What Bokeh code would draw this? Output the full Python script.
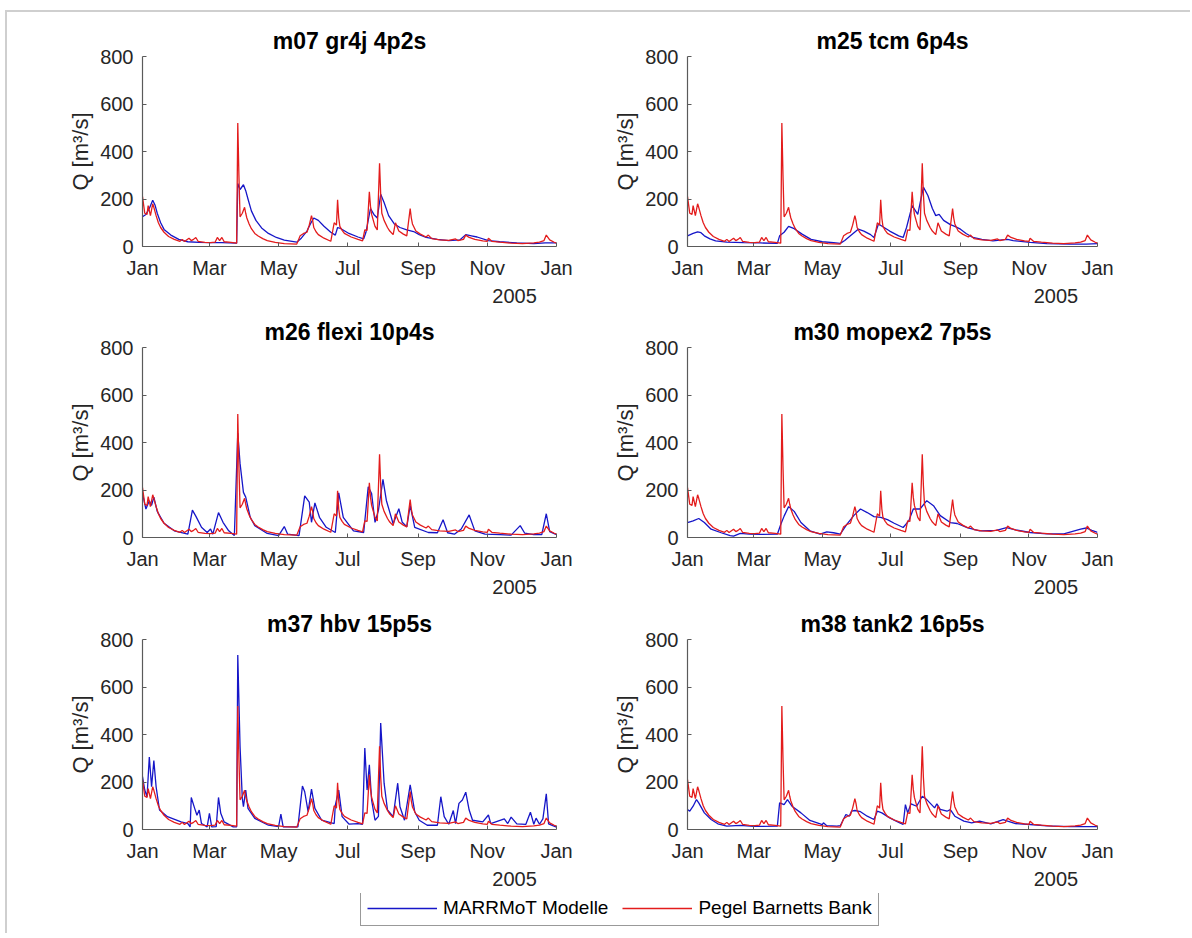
from bokeh.plotting import figure
from bokeh.layouts import column, row
from bokeh.models import FixedTicker, Legend, LegendItem, LinearAxis, Range1d
from bokeh.embed import file_html
from bokeh.resources import INLINE

# ---------------------------------------------------------------------------
# Data: discharge Q [m³/s] over 2005, given as (day of year, value) vertices
# ---------------------------------------------------------------------------
obs_days = [0, 2, 4, 5, 7, 9, 10, 12, 14, 16, 19, 23, 28, 33, 35, 37, 41, 43, 45, 47, 49,
            55, 60, 64, 66, 68, 70, 72, 78, 83, 84, 85, 86, 88, 90, 91, 92, 94, 96, 99,
            102, 106, 110, 117, 125, 136, 139, 142, 145, 147, 149, 150, 151, 153, 155,
            160, 166, 169, 171, 172, 173, 174, 176, 178, 184, 190, 194, 196, 198, 200,
            201, 202, 205, 207, 209, 210, 211, 213, 216, 218, 221, 223, 226, 230, 233,
            236, 237, 238, 241, 245, 250, 252, 255, 262, 270, 276, 278, 283, 285, 288,
            293, 300, 304, 305, 308, 315, 325, 335, 345, 350, 354, 356, 359, 363, 365]
obs_q = [210, 140, 135, 172, 130, 180, 165, 130, 100, 80, 60, 42, 30, 22, 30, 21, 35, 25, 30, 38, 22,
         17, 16, 18, 38, 25, 38, 20, 17, 14, 520, 300, 125, 140, 165, 140, 120, 95, 75, 55,
         44, 33, 25, 17, 12, 10, 45, 55, 60, 90, 130, 110, 80, 62, 50,
         35, 22, 100, 90, 197, 120, 85, 68, 55, 40, 30, 24, 70, 68, 230,
         170, 135, 85, 70, 350, 220, 140, 110, 80, 65, 50, 100, 65, 52, 45,
         160, 120, 95, 65, 52, 40, 48, 33, 28, 26, 32, 25, 30, 48, 38,
         30, 24, 22, 35, 22, 18, 14, 12, 15, 18, 25, 48, 28, 18, 14]

gr4j_days = [0, 3, 6, 9, 11, 13, 16, 19, 25, 32, 40, 50, 60, 70, 83, 84, 86, 89, 91, 93,
             96, 100, 105, 111, 118, 125, 136, 140, 145, 148, 151, 155, 160, 166, 170, 172,
             175, 182, 190, 195, 197, 201, 204, 207, 210, 213, 217, 222, 227, 233, 239,
             244, 250, 260, 270, 280, 285, 290, 295, 305, 315, 330, 345, 355, 365]
gr4j_q = [125, 135, 160, 195, 175, 140, 100, 72, 48, 30, 20, 17, 16, 16, 14, 265, 240, 260, 235, 200,
          150, 110, 78, 55, 38, 27, 18, 35, 65, 95, 120, 110, 85, 60, 48, 80,
          75, 55, 40, 32, 60, 160, 135, 120, 220, 185, 130, 95, 80, 70, 63,
          50, 38, 30, 25, 28, 50, 45, 40, 25, 20, 15, 12, 15, 15]

tcm_days = [0, 5, 9, 12, 15, 20, 25, 35, 50, 65, 80, 82, 86, 90, 95, 102, 110, 120, 130,
            136, 140, 145, 152, 157, 163, 166, 170, 175, 180, 188, 192, 195, 200, 205,
            210, 214, 218, 221, 224, 228, 234, 238, 243, 248, 254, 262, 272, 280, 285,
            290, 305, 320, 340, 355, 365]
tcm_q = [45, 55, 62, 58, 45, 32, 24, 18, 16, 15, 13, 45, 60, 85, 75, 52, 30, 20, 16,
         13, 25, 45, 73, 65, 50, 38, 95, 80, 65, 45, 38, 80, 172, 135,
         250, 215, 160, 130, 135, 110, 92, 85, 73, 55, 38, 30, 24, 28, 30,
         25, 17, 12, 10, 10, 12]

flexi_days = [0, 3, 6, 8, 10, 13, 19, 28, 40, 44, 47, 52, 57, 60, 62, 67, 71, 76, 81,
              84, 86, 89, 91, 95, 99, 110, 120, 125, 128, 138, 143, 147, 149, 152, 156,
              162, 170, 173, 177, 186, 195, 199, 202, 205, 208, 212, 215, 221, 226, 229,
              233, 236, 240, 252, 260, 265, 269, 275, 281, 288, 293, 302, 315, 325, 333,
              337, 345, 352, 356, 359, 365]
flexi_q = [185, 120, 155, 135, 170, 110, 60, 28, 14, 115, 90, 43, 21, 36, 14, 105, 64, 28, 8,
           440, 312, 190, 170, 85, 50, 17, 8, 46, 14, 8, 175, 149, 64, 146, 85,
           43, 21, 188, 85, 28, 21, 213, 185, 64, 114, 245, 156, 57, 121, 64,
           45, 135, 43, 21, 20, 75, 20, 14, 36, 95, 28, 14, 12, 10, 50,
           18, 12, 12, 100, 25, 12]

mopex_days = [0, 5, 10, 15, 21, 30, 38, 41, 47, 55, 65, 80, 83, 86, 90, 95, 101, 109, 118,
              124, 130, 136, 142, 148, 154, 160, 166, 172, 178, 184, 192, 197, 201, 207,
              213, 219, 225, 234, 240, 249, 260, 275, 284, 292, 305, 320, 335, 350, 355,
              360, 365]
mopex_q = [63, 70, 80, 63, 35, 20, 8, 6, 17, 14, 13, 14, 55, 90, 130, 110, 63, 28, 14,
           24, 20, 14, 56, 92, 120, 105, 88, 85, 75, 60, 42, 70, 120, 120,
           155, 134, 92, 63, 59, 42, 28, 30, 42, 32, 21, 15, 15, 35, 40,
           30, 22]

hbv_days = [0, 2, 4, 6, 8, 10, 12, 15, 22, 34, 40, 42, 43, 46, 48, 50, 52, 57, 59, 61,
            65, 67, 69, 72, 80, 83, 84, 86, 88, 89, 91, 93, 99, 111, 120, 122, 124, 137,
            141, 143, 146, 149, 152, 158, 169, 170, 173, 176, 182, 190, 194, 196, 198,
            200, 202, 205, 208, 210, 213, 216, 221, 225, 227, 231, 236, 240, 244, 251,
            260, 263, 266, 270, 274, 276, 279, 282, 285, 288, 291, 300, 305, 307, 319,
            322, 325, 330, 338, 342, 345, 347, 350, 353, 356, 358, 365]
hbv_q = [223, 166, 138, 305, 180, 290, 180, 82, 54, 32, 25, 11, 135, 89, 60, 82, 25, 11, 68, 11,
         12, 135, 68, 32, 11, 11, 735, 350, 131, 96, 166, 89, 47, 18, 12, 65, 11, 11,
         183, 159, 75, 170, 89, 39, 25, 103, 166, 54, 23, 25, 22, 343, 166,
         272, 124, 39, 55, 448, 195, 82, 54, 195, 96, 39, 188, 75, 39, 18,
         18, 138, 54, 22, 80, 25, 110, 124, 157, 82, 39, 32, 61, 25, 45,
         25, 52, 24, 22, 73, 22, 48, 22, 45, 150, 24, 10]

tank_days = [0, 2, 5, 8, 10, 15, 21, 27, 35, 47, 59, 80, 82, 86, 89, 93, 101, 109, 120,
             121, 124, 133, 136, 141, 144, 146, 149, 154, 160, 166, 169, 173, 180, 189,
             192, 194, 196, 199, 204, 209, 213, 220, 222, 225, 231, 234, 238, 246, 253,
             260, 270, 281, 285, 292, 305, 320, 340, 355, 365]
tank_q = [84, 77, 98, 126, 112, 70, 42, 24, 14, 17, 13, 14, 112, 105, 126, 98, 70, 38, 21,
          28, 16, 14, 16, 63, 56, 77, 80, 75, 56, 42, 77, 70, 49, 28,
          21, 105, 70, 108, 98, 140, 126, 91, 108, 85, 77, 84, 56, 35, 28,
          35, 24, 42, 35, 25, 21, 15, 12, 12, 12]

panel_titles = ["m07 gr4j 4p2s", "m25 tcm 6p4s", "m26 flexi 10p4s",
                "m30 mopex2 7p5s", "m37 hbv 15p5s", "m38 tank2 16p5s"]
model_series = [(gr4j_days, gr4j_q), (tcm_days, tcm_q), (flexi_days, flexi_q),
                (mopex_days, mopex_q), (hbv_days, hbv_q), (tank_days, tank_q)]

month_ticks = [0, 59, 120, 181, 243, 304, 365]
month_labels = ["Jan", "Mar", "May", "Jul", "Sep", "Nov", "Jan"]
year_tick = 328          # where the year caption sits under the date axis
year_text = "2005"
q_ticks = [0, 200, 400, 600, 800]
y_label = "Q [m³/s]"
legend_labels = ["MARRMoT Modelle", "Pegel Barnetts Bank"]

# ---------------------------------------------------------------------------
# Styling
# ---------------------------------------------------------------------------
FONT = "Liberation Sans"
INK = "#262626"
AXIS = "#5a5a5a"
BLUE = "#1616c8"
RED = "#e31c1c"
LW = 1.3
FRAME_H = 190
# (top border, bottom border) per row, in pixels
ROW_BORDERS = [(44, 66), (35, 66), (36, 64)]


def make_panel(title, days, q, left_col, row_idx):
    if left_col:
        w, bl, br = 603, 135, 54
    else:
        w, bl, br = 580, 75, 93
    bt, bb = ROW_BORDERS[row_idx]
    p = figure(width=w, height=bt + FRAME_H + bb, title=title,
               x_range=Range1d(0, 365), y_range=Range1d(0, 800),
               output_backend="svg", toolbar_location=None,
               min_border_left=bl, min_border_right=br,
               min_border_top=bt, min_border_bottom=bb)
    p.line(days, q, line_color=BLUE, line_width=LW)
    p.line(obs_days, obs_q, line_color=RED, line_width=LW)

    p.outline_line_color = None
    p.grid.visible = False
    p.background_fill_color = "white"
    p.border_fill_color = "white"

    p.title.align = "center"
    p.title.text_font = FONT
    p.title.text_font_size = "23px"
    p.title.text_font_style = "bold"
    p.title.text_color = "black"
    p.title.standoff = 5

    for ax in (p.xaxis[0], p.yaxis[0]):
        ax.axis_line_color = AXIS
        ax.axis_line_width = 1.2
        ax.major_tick_line_color = AXIS
        ax.major_tick_line_width = 1
        ax.major_tick_in = 4
        ax.major_tick_out = 0
        ax.minor_tick_line_color = None
        ax.major_label_text_font = FONT
        ax.major_label_text_font_size = "20px"
        ax.major_label_text_color = INK

    p.xaxis.ticker = FixedTicker(ticks=month_ticks)
    p.xaxis.major_label_overrides = dict(zip(month_ticks, month_labels))
    p.xaxis.major_label_standoff = 10

    # secondary caption line under the month labels: the year
    year_axis = LinearAxis(ticker=FixedTicker(ticks=[year_tick]),
                           major_label_overrides={year_tick: year_text},
                           axis_line_color=None, major_tick_line_color=None,
                           minor_tick_line_color=None, major_tick_in=0, major_tick_out=0,
                           major_label_standoff=7,
                           major_label_text_font=FONT, major_label_text_font_size="20px",
                           major_label_text_color=INK)
    p.add_layout(year_axis, "below")

    p.yaxis.ticker = FixedTicker(ticks=q_ticks)
    p.yaxis.major_label_standoff = 9
    p.yaxis.axis_label = y_label
    p.yaxis.axis_label_text_font = FONT
    p.yaxis.axis_label_text_font_size = "22px"
    p.yaxis.axis_label_text_font_style = "normal"
    p.yaxis.axis_label_text_color = INK
    p.yaxis.axis_label_standoff = 4
    return p


panels = []
for i, (title, (d, q)) in enumerate(zip(panel_titles, model_series)):
    panels.append(make_panel(title, d, q, left_col=(i % 2 == 0), row_idx=i // 2))

# Shared legend below the grid; its two swatch renderers sit outside the view
leg = figure(width=1183, height=40, x_range=Range1d(0, 1), y_range=Range1d(-20, -10),
             x_axis_location=None, y_axis_location=None,
             output_backend="svg", toolbar_location=None, min_border=0)
leg.outline_line_color = None
leg.grid.visible = False
r_model = leg.line(gr4j_days, gr4j_q, line_color=BLUE, line_width=LW)
r_obs = leg.line(obs_days, obs_q, line_color=RED, line_width=LW)
legend = Legend(items=[LegendItem(label=legend_labels[0], renderers=[r_model]),
                       LegendItem(label=legend_labels[1], renderers=[r_obs])],
                location=(353, 7), orientation="horizontal",
                glyph_width=70, glyph_height=20, label_height=20,
                label_standoff=6, spacing=14, padding=6, margin=0,
                label_text_font=FONT, label_text_font_size="19px",
                label_text_color="black",
                border_line_color="#333333", border_line_width=1.3,
                background_fill_color="white", background_fill_alpha=1)
leg.add_layout(legend)

layout = column(row(panels[0], panels[1]),
                row(panels[2], panels[3]),
                row(panels[4], panels[5]),
                leg,
                margin=(10, 0, 0, 5),
                styles={"border-top": "2px solid #cfcfcf",
                        "border-left": "2px solid #cfcfcf"})

open("out.html", "w").write(file_html(layout, INLINE))
